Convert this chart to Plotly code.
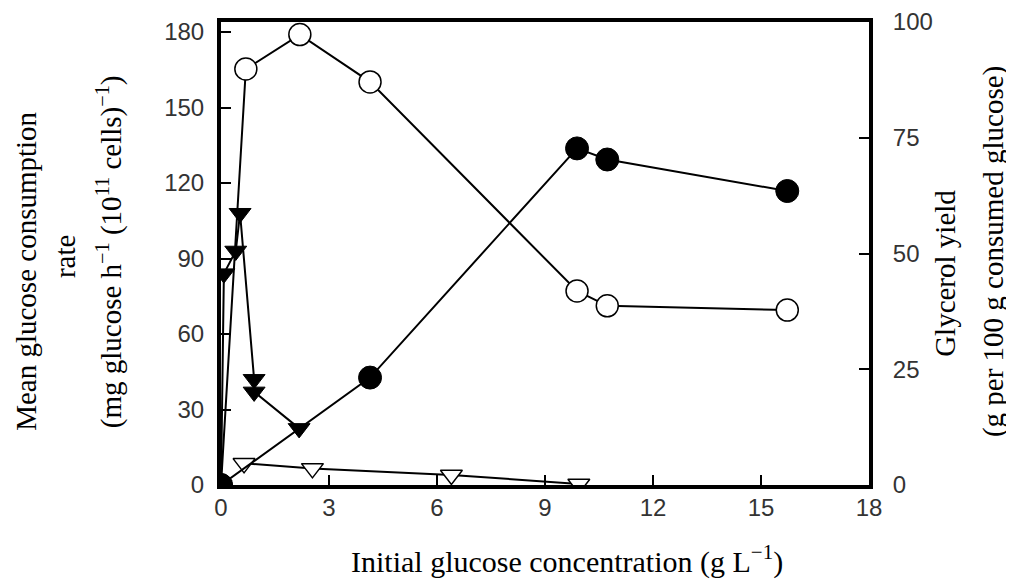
import plotly.graph_objects as go

# Data (x: initial glucose concentration, g/L)
open_circ_x = [0.0, 0.69, 2.19, 4.14, 9.89, 10.73, 15.73]
open_circ_y = [0.0, 165.3, 179.0, 160.2, 77.1, 71.2, 69.5]          # left axis

filled_circ_x = [0.0, 4.14, 9.89, 10.73, 15.73]
filled_circ_y = [0.0, 23.2, 72.7, 70.3, 63.5]                      # right axis

filled_tri_x = [0.0, 0.08, 0.41, 0.53, 0.92, 0.92, 2.17]
filled_tri_y = [0.0, 84.0, 93.0, 108.0, 42.0, 37.0, 22.5]          # left axis

open_tri_x = [0.64, 2.54, 6.40, 9.94]
open_tri_y = [8.6, 6.6, 4.0, 0.4]                                  # left axis

x_ticks = [0, 3, 6, 9, 12, 15, 18]
left_ticks = [0, 30, 60, 90, 120, 150, 180]
right_ticks = [0, 25, 50, 75, 100]

LINE = dict(color="black", width=2)

fig = go.Figure()
fig.add_trace(go.Scatter(
    x=filled_tri_x, y=filled_tri_y, mode="lines+markers", line=LINE,
    marker=dict(symbol="triangle-down", size=19, color="black",
                line=dict(color="black", width=1)),
    showlegend=False))
fig.add_trace(go.Scatter(
    x=open_tri_x, y=open_tri_y, mode="lines+markers", line=LINE,
    marker=dict(symbol="triangle-down", size=19, color="white",
                line=dict(color="black", width=1.5)),
    showlegend=False))
fig.add_trace(go.Scatter(
    x=open_circ_x, y=open_circ_y, mode="lines+markers", line=LINE,
    marker=dict(symbol="circle", size=22, color="white",
                line=dict(color="black", width=1.5)),
    showlegend=False))
fig.add_trace(go.Scatter(
    x=filled_circ_x, y=filled_circ_y, mode="lines+markers", line=LINE,
    yaxis="y2",
    marker=dict(symbol="circle", size=23, color="black",
                line=dict(color="black", width=1)),
    showlegend=False))

tickfont = dict(family="Liberation Sans", size=24, color="#333333")
serif = dict(family="Liberation Serif", size=29, color="black")
serif_b = dict(family="Liberation Serif", size=30, color="black")

def ann(text, x, y, angle=0, font=serif):
    return dict(text=text, xref="paper", yref="paper", x=x, y=y,
                xanchor="center", yanchor="middle", textangle=angle,
                showarrow=False, font=font)

fig.update_layout(
    width=1014, height=586,
    margin=dict(l=213, r=153, t=14, b=109, autoexpand=False),
    paper_bgcolor="white", plot_bgcolor="white",
    xaxis=dict(range=[0, 18], tickvals=x_ticks, ticks="inside", ticklen=10,
               tickwidth=1.5, tickcolor="black", showline=True, linewidth=4,
               linecolor="black", mirror=True, showgrid=False,
               zeroline=False, tickfont=tickfont, ticklabelstandoff=-2,
               ticklabeloverflow="allow"),
    xaxis2=dict(range=[0, 18], tickvals=x_ticks, ticks="inside", ticklen=10,
                tickwidth=1.5, tickcolor="black", showline=False,
                showticklabels=False, showgrid=False, zeroline=False,
                overlaying="x", side="top", matches="x"),
    yaxis=dict(range=[0, 184.0], tickvals=left_ticks, ticks="inside",
               ticklen=10, tickwidth=1.5, tickcolor="black", showline=True,
               linewidth=4, linecolor="black", showgrid=False, zeroline=False,
               tickfont=tickfont, ticklabelstandoff=8,
               ticklabeloverflow="allow"),
    yaxis2=dict(range=[0, 100], tickvals=right_ticks, ticks="inside",
                ticklen=10, tickwidth=1.5, tickcolor="black", showline=True,
                linewidth=4, linecolor="black", showgrid=False,
                zeroline=False, overlaying="y", side="right",
                tickfont=tickfont, ticklabelstandoff=15,
                ticklabeloverflow="allow"),
    annotations=[
        ann("Initial glucose concentration (g L<sup>\u22121</sup>)",
            0.534, -0.16, 0, serif_b),
        ann("Mean glucose consumption", -0.302, 0.461, -90),
        ann("rate", -0.241, 0.494, -90),
        ann("(mg glucose h<sup>\u22121</sup> (10<sup>11</sup> cells)<sup>\u22121</sup>)",
            -0.172, 0.504, -90),
        ann("Glycerol yield", 1.118, 0.457, -90),
        ann("(g per 100 g consumed glucose)", 1.192, 0.504, -90),
    ],
)

fig.write_html("out.html")
